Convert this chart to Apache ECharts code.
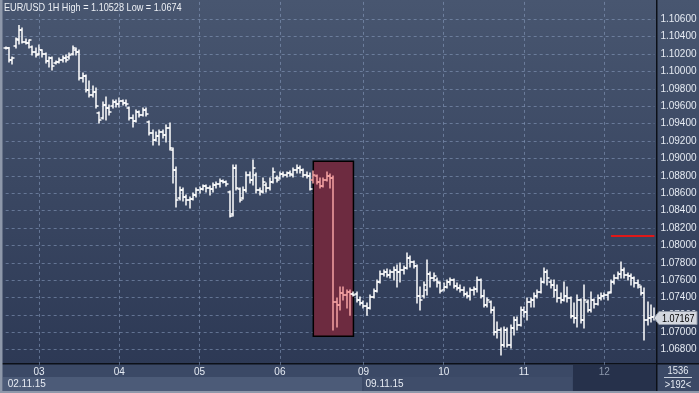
<!DOCTYPE html>
<html><head><meta charset="utf-8">
<script src="https://cdn.jsdelivr.net/npm/echarts/dist/echarts.min.js"></script>
<style>html,body{margin:0;padding:0;background:#2b3753;}#c{width:699px;height:393px;}</style>
</head><body><div id="c"></div>
<script>
const symbol = 'EUR/USD', timeframe = '1H';
// trading sessions: [day, firstHour, lastHour]
const sessions = [['02',14,23],['03',0,23],['04',0,23],['05',0,23],['06',0,22],['08',22,23],['09',0,23],['10',0,23],['11',0,23],['12',0,15]];
const weekLabels = {'02': '02.11.15', '09': '09.11.15'};
const mutedDay = '12';
const totalBars = '1536', visibleBars = '>192<';

const opens = [1.10270,1.10270,1.10132,1.10293,1.10362,1.10477,1.10339,1.10328,1.10282,1.10224,1.10201,1.10247,1.10201,1.10121,1.10155,1.10098,1.10109,1.10132,1.10155,1.10167,
1.10201,1.10247,1.10224,1.09925,1.09948,1.09787,1.09730,1.09764,1.09522,1.09465,1.09615,1.09580,1.09603,1.09649,1.09626,1.09661,1.09638,1.09580,1.09465,1.09431,
1.09534,1.09500,1.09557,1.09419,1.09293,1.09212,1.09258,1.09304,1.09270,1.09350,1.09097,1.08867,1.08545,1.08637,1.08557,1.08522,1.08534,1.08580,1.08637,1.08649,
1.08683,1.08660,1.08649,1.08695,1.08706,1.08741,1.08729,1.08614,1.08361,1.08890,1.08649,1.08545,1.08637,1.08810,1.08752,1.08810,1.08637,1.08614,1.08695,1.08660,
1.08729,1.08775,1.08775,1.08821,1.08810,1.08833,1.08810,1.08867,1.08890,1.08867,1.08810,1.08798,1.08752,1.08798,1.08729,1.08683,1.08752,1.08798,1.08775,1.07349,
1.07314,1.07453,1.07430,1.07464,1.07441,1.07441,1.07372,1.07337,1.07303,1.07280,1.07407,1.07476,1.07579,1.07671,1.07694,1.07660,1.07694,1.07717,1.07694,1.07717,
1.07740,1.07855,1.07809,1.07763,1.07418,1.07418,1.07487,1.07671,1.07625,1.07602,1.07568,1.07487,1.07522,1.07579,1.07602,1.07533,1.07510,1.07487,1.07441,1.07418,
1.07487,1.07499,1.07602,1.07418,1.07314,1.07349,1.07257,1.07004,1.07027,1.06855,1.07027,1.06855,1.07050,1.07142,1.07085,1.07257,1.07234,1.07349,1.07372,1.07418,
1.07464,1.07579,1.07694,1.07579,1.07545,1.07487,1.07395,1.07372,1.07418,1.07395,1.07188,1.07165,1.07372,1.07142,1.07349,1.07257,1.07372,1.07326,1.07395,1.07418,
1.07430,1.07464,1.07579,1.07625,1.07671,1.07717,1.07660,1.07648,1.07625,1.07568,1.07522,1.07453,1.07142,1.07165,1.07177];
const highs = [1.10282,1.10275,1.10167,1.10385,1.10528,1.10500,1.10374,1.10362,1.10293,1.10270,1.10305,1.10250,1.10213,1.10167,1.10167,1.10121,1.10155,1.10178,1.10190,1.10213,
1.10293,1.10270,1.10247,1.09982,1.09960,1.09890,1.09833,1.09810,1.09534,1.09649,1.09707,1.09615,1.09672,1.09672,1.09695,1.09672,1.09672,1.09592,1.09500,1.09557,
1.09546,1.09580,1.09580,1.09431,1.09327,1.09304,1.09327,1.09327,1.09385,1.09408,1.09120,1.08902,1.08672,1.08660,1.08580,1.08557,1.08603,1.08660,1.08672,1.08695,
1.08695,1.08683,1.08717,1.08729,1.08764,1.08752,1.08741,1.08626,1.08925,1.08925,1.08660,1.08672,1.08844,1.08844,1.08982,1.08833,1.08660,1.08775,1.08717,1.08775,
1.08890,1.08798,1.08844,1.08844,1.08844,1.08856,1.08890,1.08925,1.08913,1.08879,1.08844,1.08833,1.08856,1.08810,1.08775,1.08775,1.08844,1.08821,1.08798,1.07395,
1.07522,1.07522,1.07487,1.07487,1.07464,1.07464,1.07407,1.07361,1.07337,1.07430,1.07499,1.07602,1.07706,1.07717,1.07729,1.07717,1.07752,1.07775,1.07798,1.07763,
1.07913,1.07878,1.07821,1.07775,1.07522,1.07579,1.07832,1.07694,1.07683,1.07625,1.07579,1.07568,1.07602,1.07625,1.07614,1.07568,1.07545,1.07522,1.07464,1.07510,
1.07522,1.07637,1.07614,1.07487,1.07395,1.07361,1.07291,1.07119,1.07050,1.07062,1.07050,1.07085,1.07177,1.07177,1.07291,1.07291,1.07395,1.07395,1.07453,1.07487,
1.07625,1.07740,1.07717,1.07602,1.07602,1.07545,1.07453,1.07579,1.07522,1.07407,1.07337,1.07430,1.07384,1.07545,1.07372,1.07464,1.07384,1.07430,1.07453,1.07453,
1.07464,1.07602,1.07660,1.07694,1.07809,1.07740,1.07683,1.07671,1.07637,1.07602,1.07533,1.07510,1.07349,1.07314,1.07280];
const lows = [1.10259,1.10109,1.10086,1.10270,1.10316,1.10328,1.10316,1.10270,1.10190,1.10167,1.10190,1.10167,1.10098,1.10052,1.10017,1.10086,1.10098,1.10109,1.10109,1.10144,
1.10190,1.10190,1.09902,1.09879,1.09764,1.09707,1.09707,1.09580,1.09408,1.09454,1.09442,1.09500,1.09580,1.09592,1.09592,1.09615,1.09603,1.09442,1.09362,1.09419,
1.09477,1.09488,1.09488,1.09270,1.09155,1.09201,1.09155,1.09235,1.09189,1.09097,1.08717,1.08442,1.08522,1.08510,1.08465,1.08430,1.08522,1.08557,1.08603,1.08637,
1.08614,1.08580,1.08614,1.08660,1.08672,1.08717,1.08683,1.08327,1.08338,1.08637,1.08499,1.08534,1.08614,1.08717,1.08695,1.08603,1.08580,1.08603,1.08614,1.08637,
1.08717,1.08729,1.08764,1.08787,1.08787,1.08798,1.08787,1.08833,1.08833,1.08787,1.08775,1.08637,1.08717,1.08706,1.08660,1.08672,1.08741,1.08660,1.07027,1.07062,
1.07257,1.07372,1.07280,1.07197,1.07418,1.07349,1.07314,1.07280,1.07197,1.07268,1.07395,1.07464,1.07568,1.07648,1.07637,1.07625,1.07602,1.07522,1.07579,1.07671,
1.07729,1.07752,1.07740,1.07337,1.07257,1.07395,1.07430,1.07522,1.07591,1.07522,1.07453,1.07476,1.07510,1.07545,1.07510,1.07487,1.07464,1.07418,1.07395,1.07372,
1.07430,1.07464,1.07395,1.07291,1.07291,1.07222,1.06970,1.06935,1.06740,1.06832,1.06832,1.06820,1.06970,1.07027,1.07073,1.07177,1.07142,1.07291,1.07291,1.07395,
1.07453,1.07568,1.07545,1.07510,1.07407,1.07349,1.07337,1.07361,1.07349,1.07165,1.07107,1.07062,1.07107,1.07050,1.07234,1.07234,1.07280,1.07314,1.07372,1.07384,
1.07372,1.07453,1.07556,1.07614,1.07625,1.07625,1.07602,1.07545,1.07522,1.07510,1.07430,1.06912,1.07085,1.07119,1.07142];
const closes = [1.10270,1.10132,1.10155,1.10374,1.10477,1.10339,1.10328,1.10360,1.10224,1.10190,1.10247,1.10201,1.10121,1.10155,1.10063,1.10109,1.10132,1.10155,1.10132,1.10190,
1.10270,1.10224,1.09925,1.09948,1.09787,1.09730,1.09764,1.09603,1.09442,1.09615,1.09580,1.09534,1.09649,1.09626,1.09661,1.09638,1.09626,1.09465,1.09431,1.09534,
1.09500,1.09557,1.09511,1.09293,1.09212,1.09258,1.09304,1.09270,1.09350,1.09120,1.08867,1.08522,1.08637,1.08557,1.08522,1.08534,1.08580,1.08637,1.08649,1.08683,
1.08660,1.08649,1.08695,1.08706,1.08741,1.08729,1.08706,1.08338,1.08890,1.08660,1.08522,1.08637,1.08810,1.08752,1.08890,1.08637,1.08626,1.08729,1.08660,1.08729,
1.08844,1.08752,1.08821,1.08810,1.08833,1.08821,1.08867,1.08890,1.08867,1.08810,1.08798,1.08649,1.08810,1.08729,1.08683,1.08752,1.08798,1.08775,1.07349,1.07314,
1.07453,1.07430,1.07464,1.07441,1.07430,1.07372,1.07337,1.07303,1.07280,1.07407,1.07476,1.07579,1.07671,1.07694,1.07660,1.07694,1.07717,1.07694,1.07717,1.07740,
1.07855,1.07809,1.07763,1.07418,1.07372,1.07545,1.07671,1.07625,1.07648,1.07579,1.07476,1.07522,1.07579,1.07602,1.07533,1.07510,1.07487,1.07441,1.07418,1.07487,
1.07499,1.07602,1.07418,1.07314,1.07372,1.07257,1.07004,1.07027,1.06855,1.07027,1.06855,1.07050,1.07142,1.07085,1.07257,1.07234,1.07349,1.07372,1.07418,1.07464,
1.07579,1.07694,1.07625,1.07545,1.07487,1.07395,1.07372,1.07418,1.07395,1.07188,1.07165,1.07372,1.07142,1.07372,1.07257,1.07372,1.07326,1.07395,1.07418,1.07430,
1.07453,1.07579,1.07625,1.07671,1.07717,1.07660,1.07648,1.07625,1.07568,1.07545,1.07453,1.07142,1.07165,1.07177,1.07167];

// highlighted block (bar index range and price range) and alert level
const highlightBars = [92, 103];
const highlightPrices = [1.08967, 1.06955];
const alertLevel = 1.08108;
const alertBars = [181, 194];

const yMin = 1.066, yMax = 1.108, yStep = 0.002;

// ---- build categories ----
const categories = [];
sessions.forEach(([d, a, b]) => { for (let h = a; h <= b; h++) categories.push(d + ' ' + String(h).padStart(2, '0') + ':00'); });
const bars = opens.map((o, i) => [i, o, highs[i], lows[i], closes[i]]);

const FONT = "'Liberation Sans', Arial, sans-serif";
const LBL = 10;
const chart = echarts.init(document.getElementById('c'), null, {renderer: 'canvas'});

const W = 699, H = 393, FRAME_X = 656, STRIP_Y = 364;
const titleText = `${symbol} ${timeframe} High = ${Math.max(...highs)} Low = ${Math.min(...lows)}`;
const option = {
  animation: false,
  backgroundColor: 'transparent',
  grid: {left: 5.67, right: 44.6, top: 1.9, bottom: 25.9, containLabel: false, outerBoundsMode: 'none'},
  xAxis: [{
    type: 'category', data: categories, boundaryGap: false, z: 10,
    axisLine: {show: false}, axisTick: {show: false},
    axisLabel: {
      interval: (i, v) => v.endsWith(' 00:00'),
      formatter: v => v.slice(0, 2),
      color: v => v.startsWith(mutedDay) ? '#8d98ad' : '#e6ebf3',
      fontSize: LBL, fontFamily: FONT, margin: 0
    },
    splitLine: {show: true, interval: (i, v) => v.endsWith(' 00:00'),
      lineStyle: {color: 'rgba(140,160,195,0.55)', type: [3, 3], width: 1}}
  }, {
    type: 'category', data: categories, boundaryGap: false, position: 'bottom', offset: 11, z: 10,
    axisLine: {show: false}, axisTick: {show: false}, splitLine: {show: false},
    axisLabel: {
      interval: (i, v) => i === 0 ? v.slice(0, 2) in weekLabels : (v.endsWith(' 00:00') && v.slice(0, 2) in weekLabels),
      formatter: v => weekLabels[v.slice(0, 2)] || '',
      align: 'left', padding: [0, 0, 0, 2],
      color: '#e6ebf3', fontSize: LBL, fontFamily: FONT, margin: 1
    }
  }],
  yAxis: {
    type: 'value', position: 'right', min: yMin, max: yMax, interval: yStep, offset: 2,
    axisLine: {show: false}, axisTick: {show: false},
    axisLabel: {formatter: v => v.toFixed(5), color: '#e6ebf3', fontSize: LBL, fontFamily: FONT,
      margin: 4, showMinLabel: false, showMaxLabel: false},
    splitLine: {show: true, showMinLine: false, showMaxLine: false,
      lineStyle: {color: 'rgba(140,160,195,0.55)', type: [3, 3], width: 1}}
  },
  series: [{
    type: 'line', data: [], z: 1, silent: true,
    markArea: {silent: true,
      itemStyle: {color: '#6d2b40', borderColor: '#000000', borderWidth: 1.5},
      data: [[{xAxis: categories[highlightBars[0]], yAxis: highlightPrices[0]},
              {xAxis: categories[highlightBars[1] + 1], yAxis: highlightPrices[1]}]]},
    markLine: {silent: true, symbol: 'none', label: {show: false},
      lineStyle: {color: '#e01818', width: 2, type: 'solid'},
      data: [[{xAxis: categories[alertBars[0]], yAxis: alertLevel},
              {xAxis: categories[alertBars[1]], yAxis: alertLevel}]]}
  }, {
    type: 'custom', z: 5, clip: false,
    data: bars,
    encode: {x: 0, y: [1, 2, 3, 4]},
    renderItem: (params, api) => {
      const i = api.value(0);
      const o = api.coord([i, api.value(1)]);
      const h = api.coord([i, api.value(2)]);
      const l = api.coord([i, api.value(3)]);
      const c = api.coord([i, api.value(4)]);
      const x = Math.round(o[0]);
      const col = (i >= highlightBars[0] && i <= highlightBars[1]) ? '#f6a3a3' : '#ffffff';
      const st = {stroke: col, lineWidth: 1.5};
      return {type: 'group', children: [
        {type: 'line', shape: {x1: x, y1: h[1] - 0.5, x2: x, y2: l[1] + 0.5}, style: st},
        {type: 'line', shape: {x1: x - 2.5, y1: Math.round(o[1]), x2: x, y2: Math.round(o[1])}, style: st},
        {type: 'line', shape: {x1: x, y1: Math.round(c[1]), x2: x + 2.5, y2: Math.round(c[1])}, style: st}
      ]};
    }
  }],
  graphic: [
    {type: 'rect', z: -100, silent: true, shape: {x: 0, y: 0, width: W, height: H},
      style: {fill: new echarts.graphic.LinearGradient(0, 0, 0, 1, [{offset: 0, color: '#485670'}, {offset: 1, color: '#2b3753'}])}},
    {type: 'text', z: 8, silent: true, x: 4, y: 8, scaleX: 0.83,
      style: {text: titleText, x: 0, y: 0, verticalAlign: 'middle', fill: '#eef1f6', font: `11px ${FONT}`}},
    {type: 'rect', z: 5, silent: true, shape: {x: 0, y: STRIP_Y, width: W, height: H - STRIP_Y}, style: {fill: '#3b4966'}},
    {type: 'rect', z: 6, silent: true, shape: {x: 3, y: 377, width: 359, height: 14}, style: {fill: '#4c5b78'}},
    {type: 'rect', z: 6, silent: true, shape: {x: 364, y: 377, width: 208, height: 14}, style: {fill: '#3f4d6a'}},
    {type: 'rect', z: 6, silent: true, shape: {x: 573, y: 365, width: 83, height: 26}, style: {fill: '#26314b'}},
    {type: 'rect', z: 7, silent: true, shape: {x: 0, y: STRIP_Y - 1, width: W, height: 1.5}, style: {fill: '#0c1018'}},
    {type: 'rect', z: 7, silent: true, shape: {x: FRAME_X, y: 0, width: 1.5, height: H}, style: {fill: '#0c1018'}},
    {type: 'rect', z: 7, silent: true, shape: {x: 0, y: 0, width: 2.5, height: H}, style: {fill: '#8e98aa'}},
    {type: 'rect', z: 7, silent: true, shape: {x: 0, y: H - 2, width: W, height: 2}, style: {fill: '#8e98aa'}},
    {type: 'text', z: 8, silent: true, x: 678, y: 371, scaleX: 0.85,
      style: {text: totalBars, x: 0, y: 0, align: 'center', verticalAlign: 'middle', fill: '#e6ebf3', font: `11px ${FONT}`}},
    {type: 'rect', z: 8, silent: true, shape: {x: 664, y: 377, width: 28, height: 1}, style: {fill: '#c8d0dc'}},
    {type: 'text', z: 8, silent: true, x: 678, y: 385, scaleX: 0.85,
      style: {text: visibleBars, x: 0, y: 0, align: 'center', verticalAlign: 'middle', fill: '#e6ebf3', font: `11px ${FONT}`}}
  ]
};
chart.setOption(option);

// current price tag
const last = closes[closes.length - 1];
const py = Math.round(chart.convertToPixel({yAxisIndex: 0}, last));
chart.setOption({graphic: option.graphic.concat([
  {type: 'polygon', z: 9, silent: true,
    shape: {points: [[654, py], [659, py - 6.5], [697, py - 6.5], [697, py + 6.5], [659, py + 6.5]]},
    style: {fill: '#d3d7df', stroke: '#8f97a6', lineWidth: 1}},
  {type: 'text', z: 10, silent: true, x: 662, y: py + 0.5, scaleX: 0.82,
    style: {text: last.toFixed(5), x: 0, y: 0, verticalAlign: 'middle', fill: '#000000', font: `11px ${FONT}`}}
])});
</script></body></html>
